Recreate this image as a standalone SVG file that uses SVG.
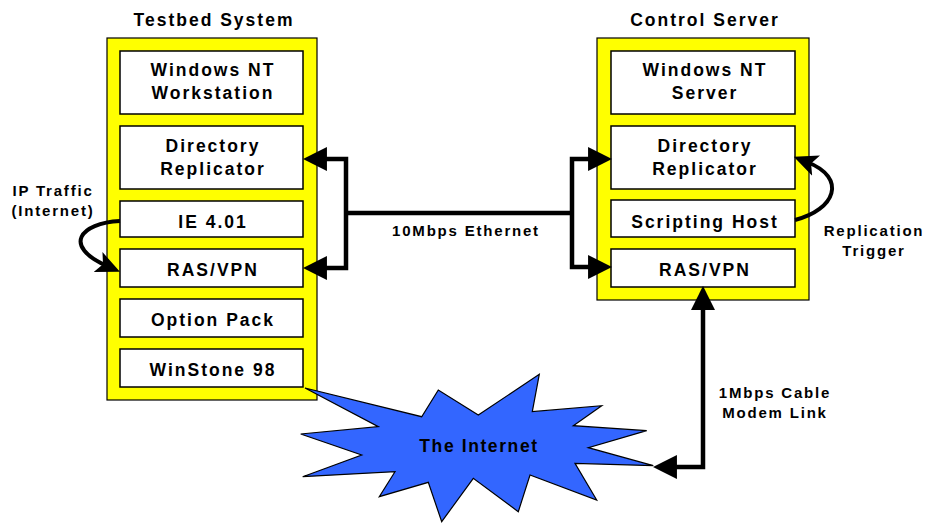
<svg xmlns="http://www.w3.org/2000/svg" width="926" height="523" viewBox="0 0 926 523">
<style>
text{font-family:"Liberation Sans",Arial,sans-serif;font-weight:bold;fill:#000;text-anchor:middle}
.t{font-size:17.5px;letter-spacing:2px}
.s{font-size:15px;letter-spacing:1.8px}
.cont{fill:#FFFF00;stroke:#000;stroke-width:1.2}
.box{fill:#fff;stroke:#000;stroke-width:1.5}
.ln{fill:none;stroke:#000;stroke-width:4.5;stroke-linejoin:miter}
</style>
<defs>
<marker id="ah" markerUnits="userSpaceOnUse" markerWidth="24" markerHeight="24" viewBox="0 0 22 22" refX="10" refY="11" orient="auto-start-reverse">
<path d="M0,0 L22,11 L0,22 z" fill="#000"/>
</marker>
<marker id="cv" markerUnits="userSpaceOnUse" markerWidth="24" markerHeight="22" viewBox="0 0 22 20" refX="9" refY="10" orient="auto">
<path d="M0,0 L22,10 L0,20 L5,10 z" fill="#000"/>
</marker>
</defs>

<g id="testbed">
<rect class="cont" x="107" y="38" width="210" height="362"/>
<text class="t" x="214" y="26">Testbed System</text>
</g>
<g id="tb-winnt">
<rect class="box" x="120" y="51" width="183" height="63"/>
<text class="t" x="213" y="76">Windows NT</text>
<text class="t" x="213" y="99">Workstation</text>
</g>
<g id="tb-dirrep">
<rect class="box" x="120" y="126" width="183" height="63"/>
<text class="t" x="213" y="152">Directory</text>
<text class="t" x="213" y="175">Replicator</text>
</g>
<g id="tb-ie">
<rect class="box" x="120" y="201" width="183" height="36"/>
<text class="t" x="213" y="228">IE 4.01</text>
</g>
<g id="tb-ras">
<rect class="box" x="120" y="249" width="183" height="38"/>
<text class="t" x="213" y="276">RAS/VPN</text>
</g>
<g id="tb-option">
<rect class="box" x="120" y="299" width="183" height="38"/>
<text class="t" x="213" y="326">Option Pack</text>
</g>
<g id="tb-winstone">
<rect class="box" x="120" y="349" width="183" height="38"/>
<text class="t" x="213" y="376">WinStone 98</text>
</g>

<g id="control">
<rect class="cont" x="597" y="38" width="212" height="262"/>
<text class="t" x="705" y="26">Control Server</text>
</g>
<g id="cs-winnt">
<rect class="box" x="611" y="51" width="184" height="63"/>
<text class="t" x="705" y="76">Windows NT</text>
<text class="t" x="705" y="99">Server</text>
</g>
<g id="cs-dirrep">
<rect class="box" x="611" y="126" width="184" height="63"/>
<text class="t" x="705" y="152">Directory</text>
<text class="t" x="705" y="175">Replicator</text>
</g>
<g id="cs-script">
<rect class="box" x="611" y="200" width="184" height="37"/>
<text class="t" x="705" y="228">Scripting Host</text>
</g>
<g id="cs-ras">
<rect class="box" x="611" y="249" width="184" height="38"/>
<text class="t" x="705" y="276">RAS/VPN</text>
</g>

<g id="internet">
<polygon points="305,388 421.7,416.7 438.3,390 478.3,415 539.3,374.3 532.3,411.7 601.7,405.7 573.3,425.7 646.7,430.7 588.3,447.7 653.3,465.7 575,463.3 596.7,500 530,475 518.3,511.7 473.3,478.3 441.7,521.7 428.3,482.3 379.3,496.7 395,471.7 302.7,476.7 361.7,455 300.7,434 378.3,426.7" fill="#3366FF" stroke="#000" stroke-width="1.2"/>
<text style="font-size:17.5px;letter-spacing:1.6px" x="479" y="452">The Internet</text>
</g>

<g id="connectors">
<path class="ln" d="M316,159 L346,159 L346,268 L316,268" marker-start="url(#ah)" marker-end="url(#ah)"/>
<path class="ln" d="M346,213 L572,213"/>
<path class="ln" d="M599,159 L572,159 L572,267 L599,267" marker-start="url(#ah)" marker-end="url(#ah)"/>
<path class="ln" d="M703,299 L703,467 L666,467" marker-start="url(#ah)" marker-end="url(#ah)"/>
<path class="ln" style="stroke-width:4" d="M120,221 C80,223 62,246 107,266" marker-end="url(#cv)"/>
<path class="ln" style="stroke-width:4" d="M795,220 C835,210 848,178 807,162" marker-end="url(#cv)"/>
</g>

<g id="labels">
<text class="s" x="53" y="196">IP Traffic</text>
<text class="s" x="53" y="216">(Internet)</text>
<text class="s" x="466" y="236">10Mbps Ethernet</text>
<text class="s" x="874" y="236">Replication</text>
<text class="s" x="874" y="256">Trigger</text>
<text class="s" x="775" y="398">1Mbps Cable</text>
<text class="s" x="775" y="418">Modem Link</text>
</g>
</svg>
